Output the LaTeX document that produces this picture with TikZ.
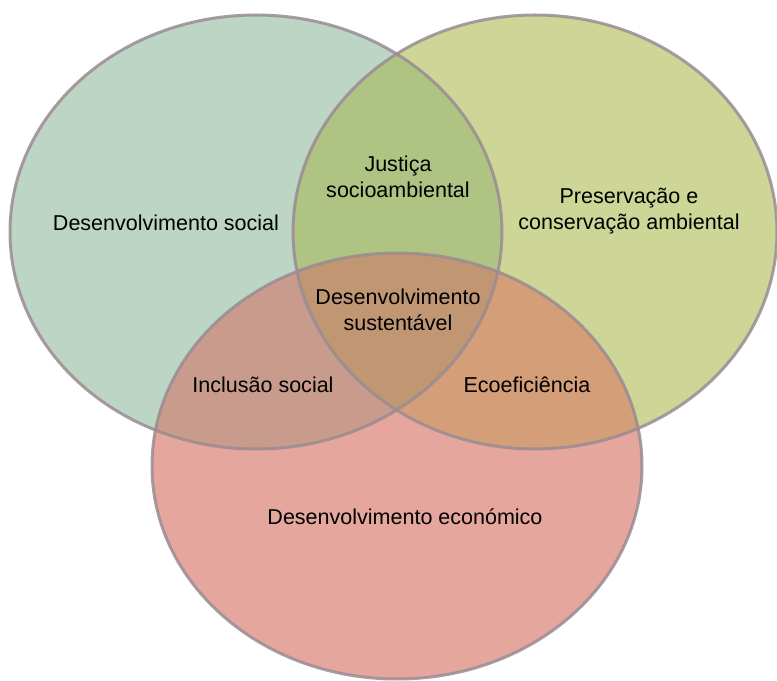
\documentclass[tikz,border=0pt]{standalone}
\usepackage{fontspec}
\setmainfont{Liberation Sans}
\usepackage{tikz}

\definecolor{socialfill}{HTML}{BDD5C5}
\definecolor{ambfill}{HTML}{CDD697}
\definecolor{ecofill}{HTML}{E5A69E}
\definecolor{justfill}{HTML}{AFC482}
\definecolor{inclfill}{HTML}{C89B8C}
\definecolor{ecoefill}{HTML}{D49E78}
\definecolor{sustfill}{HTML}{C09673}
\definecolor{rimcol}{HTML}{9A8C93}

\newcommand{\ellsocial}{(256,232) ellipse [x radius=246, y radius=217]}
\newcommand{\ellamb}{(535,232) ellipse [x radius=242, y radius=217]}
\newcommand{\elleco}{(397,466) ellipse [x radius=245, y radius=213]}

\begin{document}
\begin{tikzpicture}[x=0.025cm, y=-0.025cm,
  lbl/.style={align=center, font=\fontsize{15.3}{18.4}\selectfont, inner sep=0pt},
  rim/.style={draw=rimcol, line width=3*0.025cm, draw opacity=0.85}]
  \useasboundingbox (0,0) rectangle (777,681);

  % Circles
  \fill[socialfill] \ellsocial;
  \fill[ambfill] \ellamb;
  \fill[ecofill] \elleco;

  % Overlaps
  \begin{scope}
    \clip \ellsocial;
    \fill[justfill] \ellamb;
    \fill[inclfill] \elleco;
  \end{scope}
  \begin{scope}
    \clip \ellamb;
    \fill[ecoefill] \elleco;
    \clip \ellsocial;
    \fill[sustfill] \elleco;
  \end{scope}

  % Rims
  \draw[rim] \ellsocial;
  \draw[rim] \ellamb;
  \draw[rim] \elleco;

  % Labels
  \node[lbl] (social) at (166,223) {Desenvolvimento social};
  \node[lbl] (amb) at (629,211) {Preservação e\\conservação ambiental};
  \node[lbl] (eco) at (405,517) {Desenvolvimento económico};
  \node[lbl] (just) at (398,177) {Justiça\\socioambiental};
  \node[lbl] (incl) at (263,385) {Inclusão social};
  \node[lbl] (ecoe) at (527,385) {Ecoeficiência};
  \node[lbl] (sust) at (398,310) {Desenvolvimento\\sustentável};
\end{tikzpicture}
\end{document}
